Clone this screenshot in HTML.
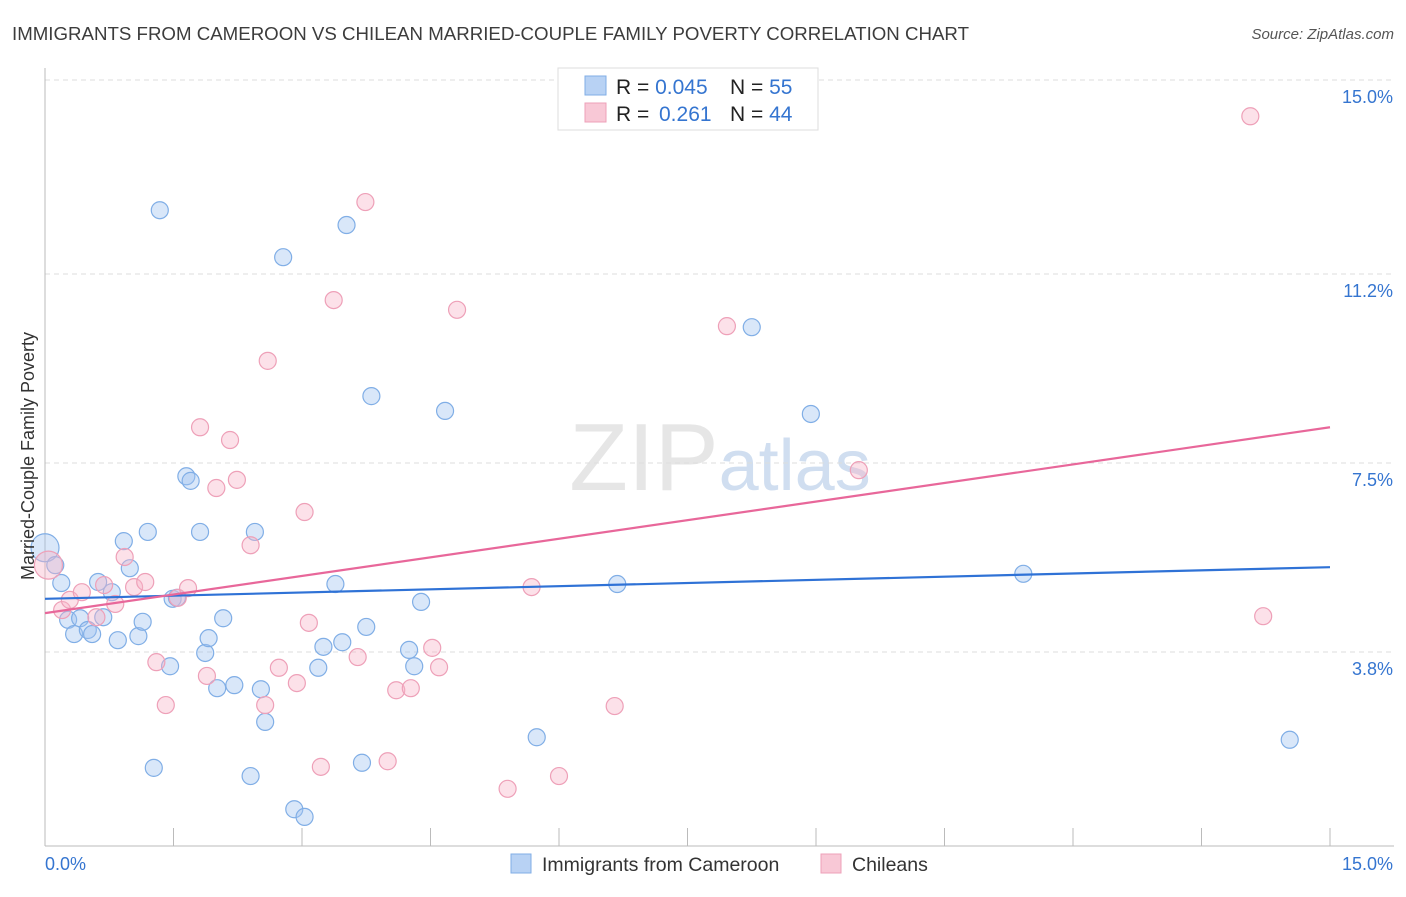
<!DOCTYPE html>
<html><head><meta charset="utf-8"><style>
body{margin:0;background:#fff;font-family:"Liberation Sans",sans-serif;}
svg text{font-family:"Liberation Sans",sans-serif;}
</style></head><body>
<svg id="chart" width="1406" height="892" viewBox="0 0 1406 892" xmlns="http://www.w3.org/2000/svg">
<text x="12" y="40" font-size="18.5" fill="#3c3c3c" textLength="957" lengthAdjust="spacingAndGlyphs">IMMIGRANTS FROM CAMEROON VS CHILEAN MARRIED-COUPLE FAMILY POVERTY CORRELATION CHART</text>
<text x="1394" y="39" font-size="15" fill="#555" font-style="italic" text-anchor="end">Source: ZipAtlas.com</text>
<text x="720" y="490" font-size="96" text-anchor="middle" fill="#e6e6e6" font-family="Liberation Serif">ZIP<tspan fill="#d0def0" font-family="Liberation Sans" font-size="72">atlas</tspan></text>
<g id="grid"></g>
<g id="axes"></g>
<g id="points"></g>
<g id="trends"></g>
<text transform="translate(34,456) rotate(-90)" font-size="18" fill="#333" text-anchor="middle">Married-Couple Family Poverty</text>
<g>
<rect x="558" y="68" width="260" height="62" fill="#fff" stroke="#ddd"/>
<rect x="585" y="76" width="21" height="19" fill="#b8d2f4" stroke="#80aee6"/>
<rect x="585" y="103" width="21" height="19" fill="#f8c8d6" stroke="#eea0b8"/>
<text x="616" y="94" font-size="21" fill="#222">R = <tspan fill="#3575d0">0.045</tspan><tspan x="730">N = </tspan><tspan fill="#3575d0">55</tspan></text>
<text x="616" y="121" font-size="21" fill="#222">R = <tspan fill="#3575d0" x="659">0.261</tspan><tspan x="730">N = </tspan><tspan fill="#3575d0">44</tspan></text>
</g>
<g>
<rect x="511" y="854" width="20" height="19" fill="#b8d2f4" stroke="#80aee6"/>
<text x="542" y="871" font-size="19.5" fill="#333">Immigrants from Cameroon</text>
<rect x="821" y="854" width="20" height="19" fill="#f8c8d6" stroke="#eea0b8"/>
<text x="852" y="871" font-size="19.5" fill="#333">Chileans</text>
</g>
</svg>
<script>
const blueX=[0.00,0.12,0.19,0.27,0.34,0.41,0.50,0.55,0.62,0.68,0.78,0.85,0.92,0.99,1.09,1.14,1.20,1.27,1.34,1.46,1.49,1.54,1.65,1.70,1.81,1.87,1.91,2.01,2.08,2.21,2.40,2.45,2.52,2.57,2.78,2.91,3.03,3.19,3.25,3.39,3.47,3.52,3.70,3.75,3.81,4.25,4.31,4.39,4.67,5.74,6.68,8.25,8.94,11.42,14.53];
const blueY=[5.84,5.50,5.15,4.43,4.15,4.46,4.23,4.15,5.17,4.48,4.97,4.03,5.97,5.44,4.11,4.39,6.15,1.53,12.45,3.52,4.84,4.86,7.24,7.15,6.15,3.78,4.07,3.09,4.46,3.15,1.37,6.15,3.07,2.43,11.53,0.72,0.57,3.49,3.90,5.13,3.99,12.16,1.63,4.29,8.81,3.84,3.52,4.78,8.52,2.13,5.13,10.16,8.46,5.33,2.08];
const pinkX=[0.04,0.20,0.29,0.43,0.60,0.69,0.82,0.93,1.04,1.17,1.30,1.41,1.55,1.67,1.81,1.89,2.00,2.16,2.24,2.40,2.57,2.60,2.73,2.94,3.03,3.08,3.22,3.37,3.65,3.74,4.00,4.10,4.27,4.52,4.60,4.81,5.40,5.68,6.00,6.65,7.96,9.50,14.07,14.22];
const pinkY=[5.50,4.62,4.82,4.97,4.48,5.11,4.74,5.66,5.07,5.17,3.60,2.76,4.86,5.05,8.20,3.33,7.01,7.95,7.17,5.89,2.76,9.50,3.49,3.19,6.54,4.37,1.55,10.69,3.70,12.61,1.66,3.05,3.09,3.88,3.50,10.50,1.12,5.07,1.37,2.74,10.18,7.36,14.29,4.50];
const blueTrend=[4.84,5.46];
const pinkTrend=[4.56,8.20];
const yTicks=[3.8,7.5,11.2,15.0];
const yTickLabels=["3.8%","7.5%","11.2%","15.0%"];
const NS="http://www.w3.org/2000/svg";
const sx=v=>45+v*(1285/15);
const sy=v=>846-v*(766/15);
function mk(tag,attrs,parent){const e=document.createElementNS(NS,tag);for(const k in attrs)e.setAttribute(k,attrs[k]);document.getElementById(parent).appendChild(e);return e;}
yTicks.forEach((t,i)=>{
 const g=mk('line',{x1:45,x2:1394,y1:sy(t),y2:sy(t),stroke:'#ddd','stroke-dasharray':'5,4'},'grid');
 
 
 const l=mk('text',{x:1393,y:sy(t)+23,'font-size':18,fill:'#3575d0','text-anchor':'end'},'axes');
 l.textContent=yTickLabels[i];
 
 
});
const ax=mk('line',{x1:45,x2:1394,y1:846,y2:846,stroke:'#bbb'},'axes');


const ay=mk('line',{x1:45,x2:45,y1:68,y2:846,stroke:'#bbb'},'axes');


for(let i=1;i<=10;i++){const t=mk('line',{x1:sx(i*1.5),x2:sx(i*1.5),y1:828,y2:846,stroke:'#bbb'},'axes');
 
 }
const x0=mk('text',{x:45,y:870,'font-size':18,fill:'#3575d0'},'axes');x0.textContent='0.0%';


const x1=mk('text',{x:1393,y:870,'font-size':18,fill:'#3575d0','text-anchor':'end'},'axes');x1.textContent='15.0%';


function pts(X,Y,fill,stroke,name){X.forEach((x,i)=>{const r=(i===0)?14:8.5;
 const c=mk('circle',{cx:sx(x),cy:sy(Y[i]),r:r,fill:fill,stroke:stroke,'stroke-width':1.2},'points');
 
 });}
pts(blueX,blueY,'rgba(160,196,240,0.4)','#80aee6','cameroon-point');
pts(pinkX,pinkY,'rgba(248,180,200,0.4)','#eea0b8','chilean-point');
const bt=mk('line',{x1:sx(0),y1:sy(blueTrend[0]),x2:sx(15),y2:sy(blueTrend[1]),stroke:'#2f72d6','stroke-width':2.2},'trends');


const pt=mk('line',{x1:sx(0),y1:sy(pinkTrend[0]),x2:sx(15),y2:sy(pinkTrend[1]),stroke:'#e8679a','stroke-width':2.2},'trends');


</script>
</body></html>
